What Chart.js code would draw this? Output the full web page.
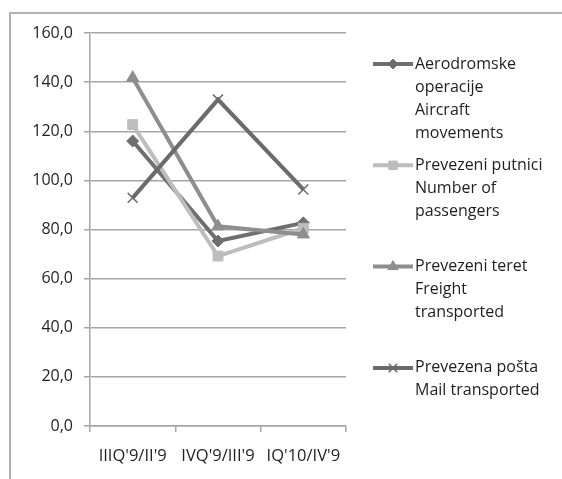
<!DOCTYPE html>
<html>
<head>
<meta charset="utf-8">
<script src="https://cdn.jsdelivr.net/npm/chart.js@4/dist/chart.umd.min.js"></script>
<style>
    html, body { margin: 0; padding: 0; background: #fff; }
    #wrap { width: 562px; height: 479px; }
</style>
</head>
<body>
<div id="wrap"><canvas id="chart" width="562" height="479"></canvas></div>
<script>
// --- Data ---
const categories = ["IIIQ'9/II'9", "IVQ'9/III'9", "IQ'10/IV'9"];
const yTicks = [0, 20, 40, 60, 80, 100, 120, 140, 160];

const aircraftValues = [116.0, 75.3, 82.7];
const passengerValues = [122.7, 69.2, 80.5];
const freightValues = [141.8, 81.3, 78.0];
const mailValues = [92.9, 132.9, 96.3];

const seriesLines = [
    ['Aerodromske', 'operacije', 'Aircraft', 'movements'],
    ['Prevezeni putnici', 'Number of', 'passengers'],
    ['Prevezeni teret', 'Freight', 'transported'],
    ['Prevezena pošta', 'Mail transported']
];
const seriesValues = [aircraftValues, passengerValues, freightValues, mailValues];
const seriesColors = ['#6f6f6f', '#bdbdbd', '#8e8e8e', '#6b6b6b'];
const seriesMarkers = ['rectRot', 'rect', 'triangle', 'crossRot'];

const FONT = '"Open Sans", sans-serif';
const TEXT = '#1f1f1f';

const datasets = seriesValues.map((vals, i) => ({
    label: seriesLines[i].join(' '),
    data: vals,
    borderColor: seriesColors[i],
    backgroundColor: seriesColors[i],
    borderWidth: 4,
    pointStyle: seriesMarkers[i],
    pointRadius: seriesMarkers[i] === 'rectRot' ? 6 : 7,
    pointBorderWidth: seriesMarkers[i] === 'crossRot' ? 1.5 : 1,
    pointBackgroundColor: seriesColors[i],
    pointBorderColor: seriesColors[i],
    tension: 0,
    order: 3 - i
}));

// outer frame (top and left edge only, like the cropped original)
const framePlugin = {
    id: 'frame',
    beforeDraw(chart) {
        const ctx = chart.ctx;
        ctx.save();
        ctx.strokeStyle = '#b3b3b3';
        ctx.lineWidth = 2;
        ctx.beginPath();
        ctx.moveTo(10, chart.height);
        ctx.lineTo(10, 13);
        ctx.lineTo(chart.width, 13);
        ctx.stroke();
        ctx.restore();
    }
};

// legend with wrapped labels on the right
const sideLegend = {
    id: 'sideLegend',
    afterDraw(chart) {
        const ctx = chart.ctx;
        ctx.save();
        ctx.font = '16px ' + FONT;
        ctx.textBaseline = 'middle';
        chart.data.datasets.forEach((ds, i) => {
            const y = 64 + i * 101.3;
            ctx.strokeStyle = ds.borderColor;
            ctx.lineWidth = 4;
            ctx.beginPath();
            ctx.moveTo(373, y);
            ctx.lineTo(413, y);
            ctx.stroke();
            ctx.fillStyle = ds.borderColor;
            ctx.lineWidth = ds.pointBorderWidth;
            Chart.helpers.drawPoint(ctx, {
                pointStyle: ds.pointStyle,
                radius: ds.pointStyle === 'rectRot' ? 5 : 6,
                rotation: 0,
                borderWidth: ds.pointBorderWidth
            }, 393, y);
            ctx.fillStyle = TEXT;
            seriesLines[i].forEach((line, k) => {
                ctx.fillText(line, 415, y + k * 23);
            });
        });
        ctx.restore();
    }
};

new Chart(document.getElementById('chart'), {
    type: 'line',
    data: { labels: categories, datasets: datasets },
    options: {
        responsive: false,
        animation: false,
        layout: { padding: { left: 0, top: 33, right: 216, bottom: 0 } },
        plugins: {
            legend: { display: false },
            tooltip: { enabled: false }
        },
        scales: {
            x: {
                offset: true,
                grid: {
                    offset: true,
                    drawOnChartArea: false,
                    drawTicks: true,
                    tickLength: 6,
                    color: '#a6a6a6',
                    lineWidth: 1.5
                },
                border: { color: '#a6a6a6', width: 1.5 },
                ticks: {
                    color: TEXT,
                    font: { family: FONT, size: 16.5 },
                    padding: 14,
                    maxRotation: 0,
                    autoSkip: false
                },
                afterFit(scale) { scale.height = 53; }
            },
            y: {
                min: yTicks[0],
                max: yTicks[yTicks.length - 1],
                afterBuildTicks(scale) { scale.ticks = yTicks.map(v => ({ value: v })); },
                grid: {
                    color: '#a6a6a6',
                    lineWidth: 1.5,
                    tickLength: 6
                },
                border: { color: '#a6a6a6', width: 1.5 },
                ticks: {
                    color: TEXT,
                    font: { family: FONT, size: 16 },
                    padding: 11,
                    callback: v => v.toFixed(1).replace('.', ',')
                },
                afterFit(scale) { scale.width = 90; }
            }
        }
    },
    plugins: [framePlugin, sideLegend]
});
</script>
</body>
</html>
